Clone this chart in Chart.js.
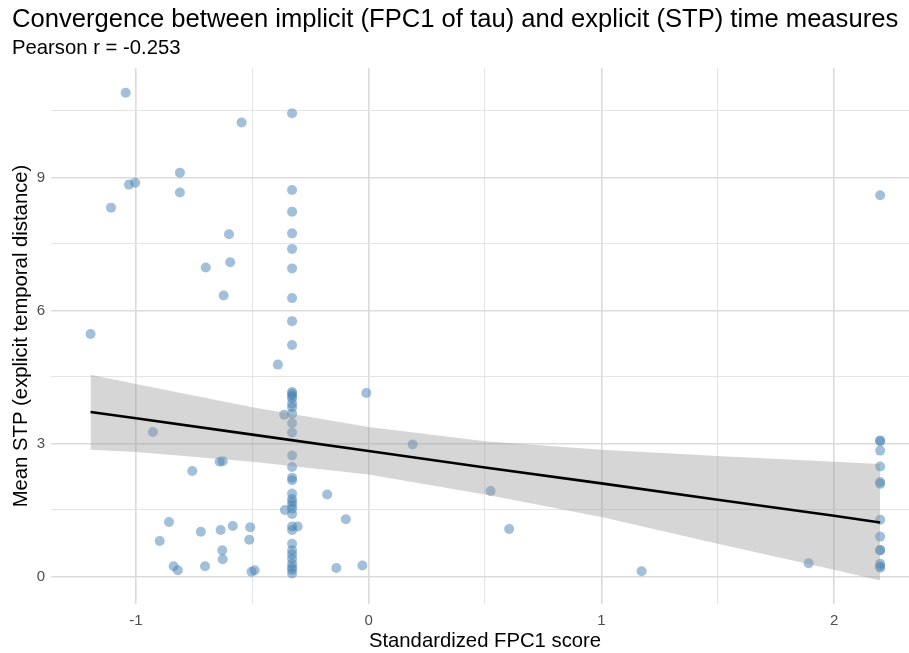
<!DOCTYPE html>
<html>
<head>
<meta charset="utf-8">
<script src="https://cdn.jsdelivr.net/npm/chart.js@4.4.0/dist/chart.umd.min.js"></script>
<style>
html, body { margin: 0; padding: 0; background: #ffffff; }
</style>
</head>
<body>
<canvas id="chart" width="909" height="653"></canvas>
<script>
// Convergence of FPC1 (tau) vs mean STP - scatter with linear fit and 95% band

const titleText = 'Convergence between implicit (FPC1 of tau) and explicit (STP) time measures';
const subtitleText = 'Pearson r = -0.253';
const xTitle = 'Standardized FPC1 score';
const yTitle = 'Mean STP (explicit temporal distance)';

// axis ticks (labelled) and minor grid lines
const xTicks = [-1, 0, 1, 2];
const xMinor = [-0.5, 0.5, 1.5];
const yTicks = [0, 3, 6, 9];
const yMinor = [1.5, 4.5, 7.5, 10.5];

// participants: standardized FPC1 score and mean STP
const fpc1 = [
    -1.044, -0.546, -0.811, -1.030, -1.003, -0.811, -1.107, -0.600, -0.595, -0.700,
    -0.623, -1.195, -0.390, -0.363, -0.927, -0.640, -0.627, -0.758, -0.858, -0.898,
    -0.721, -0.636, -0.584, -0.509, -0.513, -0.629, -0.627, -0.838, -0.820, -0.703,
    -0.503, -0.490, -0.360, -0.305, -0.178, -0.098, -0.139, -0.027, -0.010, 0.189,
    0.524, 0.604, 1.173, 1.891,
    -0.329, -0.329, -0.329, -0.329, -0.329, -0.329, -0.329, -0.329, -0.329, -0.329,
    -0.329, -0.329, -0.329, -0.329, -0.329, -0.329, -0.329, -0.329, -0.329, -0.329,
    -0.329, -0.329, -0.329, -0.329, -0.329, -0.329, -0.329, -0.329, -0.329, -0.329,
    -0.329, -0.329, -0.329, -0.329, -0.329, -0.329, -0.329, -0.329,
    2.198, 2.198, 2.198, 2.198, 2.198, 2.198, 2.198, 2.198, 2.198, 2.198,
    2.198, 2.198, 2.198, 2.198
];
const stp = [
    10.91, 10.24, 9.11, 8.84, 8.88, 8.66, 8.32, 7.72, 7.09, 6.97,
    6.34, 5.47, 4.78, 3.65, 3.26, 2.59, 2.60, 2.38, 1.23, 0.80,
    1.01, 1.05, 1.14, 1.11, 0.83, 0.59, 0.39, 0.23, 0.14, 0.23,
    0.11, 0.14, 1.50, 1.13, 1.85, 1.29, 0.19, 0.25, 4.14, 2.98,
    1.93, 1.07, 0.12, 0.30,
    10.45, 8.72, 8.23, 7.74, 7.39, 6.95, 6.28, 5.76, 5.22, 4.16,
    4.12, 4.07, 4.02, 3.90, 3.82, 3.67, 3.46, 3.25, 2.73, 2.47,
    2.23, 2.17, 1.87, 1.75, 1.68, 1.60, 1.53, 1.41, 1.13, 1.05,
    0.74, 0.59, 0.50, 0.40, 0.29, 0.21, 0.15, 0.07,
    8.60, 3.07, 3.05, 2.84, 2.48, 2.13, 2.09, 1.28, 0.90, 0.60,
    0.59, 0.29, 0.23, 0.20
];

// linear fit and confidence band, read along the x axis
const fitX  = [-1.195, -1.0, -0.5, 0.0, 0.5, 1.0, 1.5, 2.0, 2.198];
const fitY  = [3.71, 3.57, 3.20, 2.83, 2.46, 2.10, 1.73, 1.37, 1.22];
const fitHi = [4.55, 4.34, 3.82, 3.37, 3.05, 2.86, 2.72, 2.59, 2.54];
const fitLo = [2.86, 2.81, 2.59, 2.30, 1.85, 1.34, 0.74, 0.15, -0.09];

const FONT = "'Liberation Sans', Arial, sans-serif";

function toPoints(xs, ys) {
    return xs.map((x, i) => ({ x: x, y: ys[i] }));
}

// Draw title, subtitle and axis titles
const textPlugin = {
    id: 'ggText',
    afterDraw(chart) {
        const ctx = chart.ctx;
        const area = chart.chartArea;
        ctx.save();
        ctx.fillStyle = '#000000';
        ctx.textBaseline = 'alphabetic';
        ctx.textAlign = 'left';
        ctx.font = '25.6px ' + FONT;
        ctx.fillText(titleText, 12, 27);
        ctx.font = '20.3px ' + FONT;
        ctx.fillText(subtitleText, 12, 54);

        ctx.textAlign = 'center';
        ctx.fillText(xTitle, 485, 647);

        ctx.translate(27, (area.top + area.bottom) / 2);
        ctx.rotate(-Math.PI / 2);
        ctx.fillText(yTitle, 0, 0);
        ctx.restore();
    }
};

function createChart() {
    const ctx = document.getElementById('chart').getContext('2d');

    return new Chart(ctx, {
        type: 'scatter',
        data: {
            datasets: [
                {
                    label: 'points',
                    data: toPoints(fpc1, stp),
                    backgroundColor: 'rgba(70, 130, 180, 0.5)',
                    borderWidth: 0,
                    pointRadius: 5,
                    order: 3
                },
                {
                    label: 'upper',
                    data: toPoints(fitX, fitHi),
                    showLine: true,
                    borderWidth: 0,
                    borderColor: 'rgba(0,0,0,0)',
                    pointRadius: 0,
                    backgroundColor: 'rgba(153, 153, 153, 0.4)',
                    fill: 2,
                    order: 2
                },
                {
                    label: 'lower',
                    data: toPoints(fitX, fitLo),
                    showLine: true,
                    borderWidth: 0,
                    borderColor: 'rgba(0,0,0,0)',
                    pointRadius: 0,
                    fill: false,
                    order: 2
                },
                {
                    label: 'fit',
                    data: toPoints(fitX, fitY),
                    showLine: true,
                    borderColor: '#000000',
                    borderWidth: 2.6,
                    pointRadius: 0,
                    fill: false,
                    order: 1
                }
            ]
        },
        options: {
            responsive: false,
            animation: false,
            devicePixelRatio: 1,
            layout: {
                autoPadding: false,
                padding: { top: 68, left: 0, right: 0, bottom: 0 }
            },
            plugins: {
                legend: { display: false },
                title: { display: false },
                tooltip: { enabled: false }
            },
            scales: {
                x: {
                    type: 'linear',
                    min: -1.365,
                    max: 2.322,
                    afterFit: function(scale) {
                        scale.height = 49;
                        scale.paddingLeft = 0;
                        scale.paddingRight = 0;
                    },
                    afterBuildTicks: function(scale) {
                        scale.ticks = xTicks.concat(xMinor).sort((a, b) => a - b).map(v => ({ value: v }));
                    },
                    border: { display: false },
                    grid: {
                        drawTicks: false,
                        color: function(c) { return xTicks.includes(c.tick.value) ? '#dbdbdb' : '#e4e4e4'; },
                        lineWidth: function(c) { return xTicks.includes(c.tick.value) ? 1.6 : 1.1; }
                    },
                    ticks: {
                        padding: 8,
                        color: '#4d4d4d',
                        font: { family: FONT, size: 15 },
                        maxRotation: 0,
                        autoSkip: false,
                        callback: function(value) {
                            return xTicks.includes(value) ? String(value) : '';
                        }
                    }
                },
                y: {
                    type: 'linear',
                    min: -0.62,
                    max: 11.47,
                    afterFit: function(scale) {
                        scale.width = 51;
                        scale.paddingTop = 0;
                        scale.paddingBottom = 0;
                    },
                    afterBuildTicks: function(scale) {
                        scale.ticks = yTicks.concat(yMinor).sort((a, b) => a - b).map(v => ({ value: v }));
                    },
                    border: { display: false },
                    grid: {
                        drawTicks: false,
                        color: function(c) { return yTicks.includes(c.tick.value) ? '#dbdbdb' : '#e4e4e4'; },
                        lineWidth: function(c) { return yTicks.includes(c.tick.value) ? 1.6 : 1.1; }
                    },
                    ticks: {
                        padding: 6,
                        color: '#4d4d4d',
                        font: { family: FONT, size: 15 },
                        autoSkip: false,
                        callback: function(value) {
                            return yTicks.includes(value) ? String(value) : '';
                        }
                    }
                }
            }
        },
        plugins: [textPlugin]
    });
}

createChart();
</script>
</body>
</html>
